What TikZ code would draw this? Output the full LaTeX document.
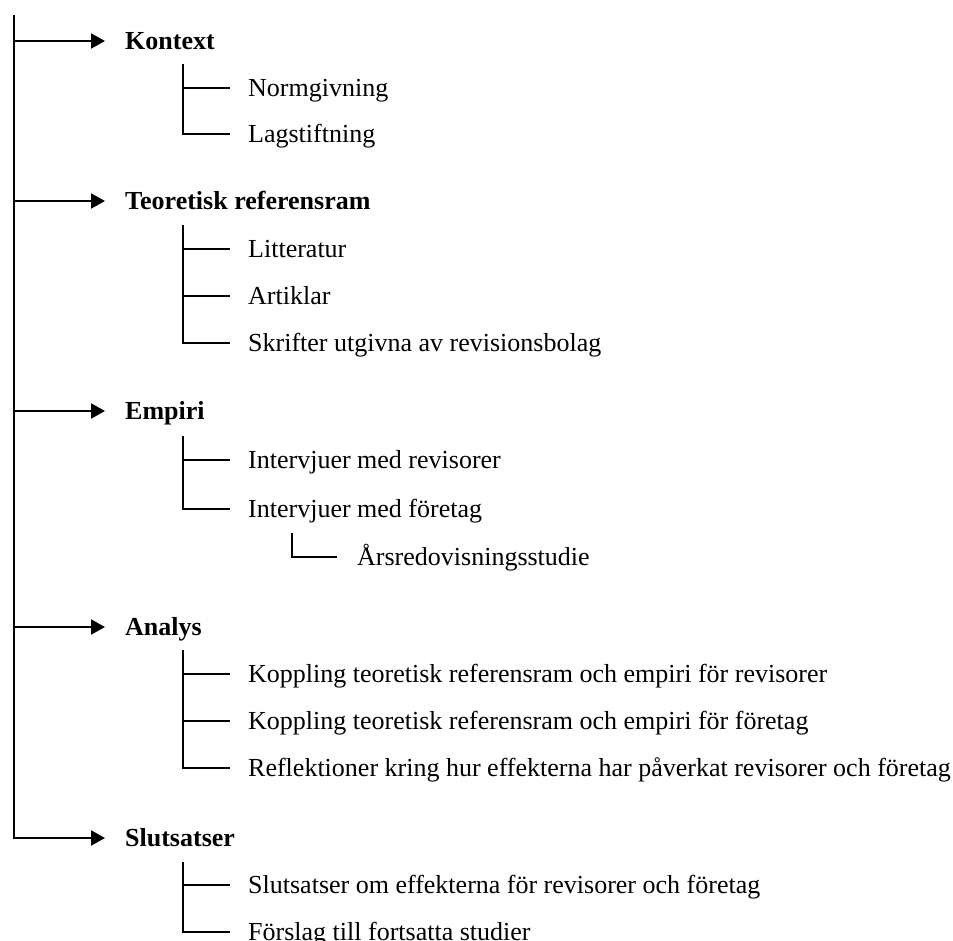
\documentclass[tikz,border=0pt]{standalone}
\usepackage{fontspec}
\setmainfont{Liberation Serif}
\usetikzlibrary{arrows.meta}

\tikzset{
	head/.style={anchor=west, inner xsep=20pt, inner ysep=0pt, text height=17pt, text depth=0pt, font=\fontsize{26}{30}\selectfont\bfseries},
	item/.style={anchor=west, inner xsep=18pt, inner ysep=0pt, text height=17pt, text depth=0pt},
	stem/.style={line width=2pt},
	pil/.style={line width=2pt, -{Triangle[length=14pt,width=15pt]}}
}

\begin{document}
\begin{tikzpicture}[x=1pt, y=-1pt, font=\fontsize{26}{30}\selectfont]
			%%%%% START %%%%%
			\useasboundingbox (0,0) rectangle (953,941);
			
			\coordinate (topp) at (14,15);
			
			\node[head] (kon) at (105,41) {Kontext};
			\node[item] (nor) at (230,88) {Normgivning};
			\node[item] (lag) at (230,134) {Lagstiftning};
			
			\node[head] (teo) at (105,201) {Teoretisk referensram};
			\node[item] (lit) at (230,249) {Litteratur};
			\node[item] (art) at (230,296) {Artiklar};
			\node[item] (skr) at (230,343) {Skrifter utgivna av revisionsbolag};
			
			\node[head] (emp) at (105,411) {Empiri};
			\node[item] (ire) at (230,460) {Intervjuer med revisorer};
			\node[item] (ifo) at (230,509) {Intervjuer med företag};
			\node[item, inner xsep=20pt] (ars) at (337,557) {Årsredovisningsstudie};
			
			\node[head] (ana) at (105,627) {Analys};
			\node[item] (kre) at (230,674) {Koppling teoretisk referensram och empiri för revisorer};
			\node[item] (kfo) at (230,721) {Koppling teoretisk referensram och empiri för företag};
			\node[item] (ref) at (230,768) {Reflektioner kring hur effekterna har påverkat revisorer och företag};
			
			\node[head] (slu) at (105,838) {Slutsatser};
			\node[item] (som) at (230,885) {Slutsatser om effekterna för revisorer och företag};
			\node[item] (for) at (230,932) {Förslag till fortsatta studier};
			
			% huvudlinjen
			\draw[pil] (topp |- kon.west) -- (kon.west);
			\draw[pil] (topp |- teo.west) -- (teo.west);
			\draw[pil] (topp |- emp.west) -- (emp.west);
			\draw[pil] (topp |- ana.west) -- (ana.west);
			\draw[pil] (topp) |- (slu.west);
			
			% grenar
			\coordinate (konstam) at (183,64);
			\draw[stem] (konstam) |- (lag.west);
			\draw[stem] (konstam |- nor.west) -- (nor.west);
			
			\coordinate (teostam) at (183,225);
			\draw[stem] (teostam) |- (skr.west);
			\draw[stem] (teostam |- lit.west) -- (lit.west);
			\draw[stem] (teostam |- art.west) -- (art.west);
			
			\coordinate (empstam) at (183,436);
			\draw[stem] (empstam) |- (ifo.west);
			\draw[stem] (empstam |- ire.west) -- (ire.west);
			
			\coordinate (ifostam) at (292,533);
			\draw[stem] (ifostam) |- (ars.west);
			
			\coordinate (anastam) at (183,650);
			\draw[stem] (anastam) |- (ref.west);
			\draw[stem] (anastam |- kre.west) -- (kre.west);
			\draw[stem] (anastam |- kfo.west) -- (kfo.west);
			
			\coordinate (slustam) at (183,862);
			\draw[stem] (slustam) |- (for.west);
			\draw[stem] (slustam |- som.west) -- (som.west);
			
			%%%%% END %%%%%
\end{tikzpicture}
\end{document}
